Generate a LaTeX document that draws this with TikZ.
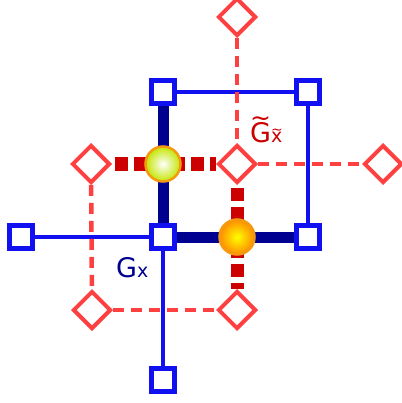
\documentclass[tikz,border=0pt]{standalone}
\usepackage{fontspec}
\setmainfont{DejaVu Sans}
\usetikzlibrary{shapes.geometric,backgrounds}
\definecolor{bl}{HTML}{1010F0}
\definecolor{nv}{HTML}{000090}
\definecolor{lr}{HTML}{FF4040}
\definecolor{dr}{HTML}{CC0000}
\definecolor{orb}{HTML}{F59A10}
\newcommand{\tildeover}[3]{\makebox[0pt][l]{\raisebox{#2}{\fontsize{#1}{#1}\selectfont\textasciitilde}}#3}
\tikzset{
  sq/.style={draw=bl,fill=white,line width=4.5pt,minimum size=23pt,inner sep=0pt,rectangle},
  dm/.style={draw=lr,fill=white,line width=4pt,diamond,minimum width=38pt,minimum height=38pt,inner sep=0pt},
  ball/.style={circle,draw=orb,line width=2.5pt,minimum size=35pt,inner sep=0pt},
  thinb/.style={draw=bl,line width=4pt},
  thickb/.style={draw=nv,line width=11pt},
  thinr/.style={draw=lr,line width=4.5pt,dash pattern=on 11pt off 7pt},
  thickr/.style={draw=dr,line width=13pt,dash pattern=on 13pt off 6pt,dash phase=-3pt},
  lab/.style={inner sep=0pt,anchor=base west}
}
\begin{document}
\begin{tikzpicture}[x=1pt,y=-1pt]
\useasboundingbox (0,0) rectangle (401,403);
\node[sq] (s1) at (163,92) {};
\node[sq] (s2) at (308,92) {};
\node[sq] (s3) at (163,237) {};
\node[sq] (s4) at (308,237) {};
\node[sq] (s5) at (21,237) {};
\node[sq] (s6) at (163,380) {};
\node[dm] (d1) at (237,17) {};
\node[dm] (d2) at (91,164) {};
\node[dm] (d3) at (237,164) {};
\node[dm] (d4) at (383,164) {};
\node[dm] (d5) at (92,310) {};
\node[dm] (d6) at (237,310) {};
\node[ball,shading=radial,inner color=white,outer color=yellow!85!green!90!black] (c1) at (163,164) {};
\node[ball,shading=radial,inner color=yellow,outer color=orange!90!yellow] (c2) at (237,237) {};
\node[lab,text=nv] (gx) at (116,277) {\fontsize{27}{30}\selectfont G\fontsize{19}{22}\selectfont x};
\node[lab,text=dr] (gt) at (250,143) {\fontsize{27}{30}\selectfont\tildeover{25pt}{17pt}{G}\fontsize{19}{22}\selectfont\tildeover{14pt}{8.5pt}{x}};
\begin{scope}[on background layer]
\path[thinb] (s1) -- (s2);
\path[thinb] (s2) -- (s4);
\path[thinb] (s5) -- (s3);
\path[thinb] (s3) -- (s6);
\path[thickb] (s1) -- (s3);
\path[thickb] (s3) -- (s4);
\path[thinr] (d1) -- (d3);
\path[thinr] (d3) -- (d4);
\path[thinr] (d2) -- (d5);
\path[thinr] (d5) -- (d6);
\path[thickr] (d2) -- (d3);
\path[thickr] (d3) -- (d6);
\end{scope}
\end{tikzpicture}
\end{document}
